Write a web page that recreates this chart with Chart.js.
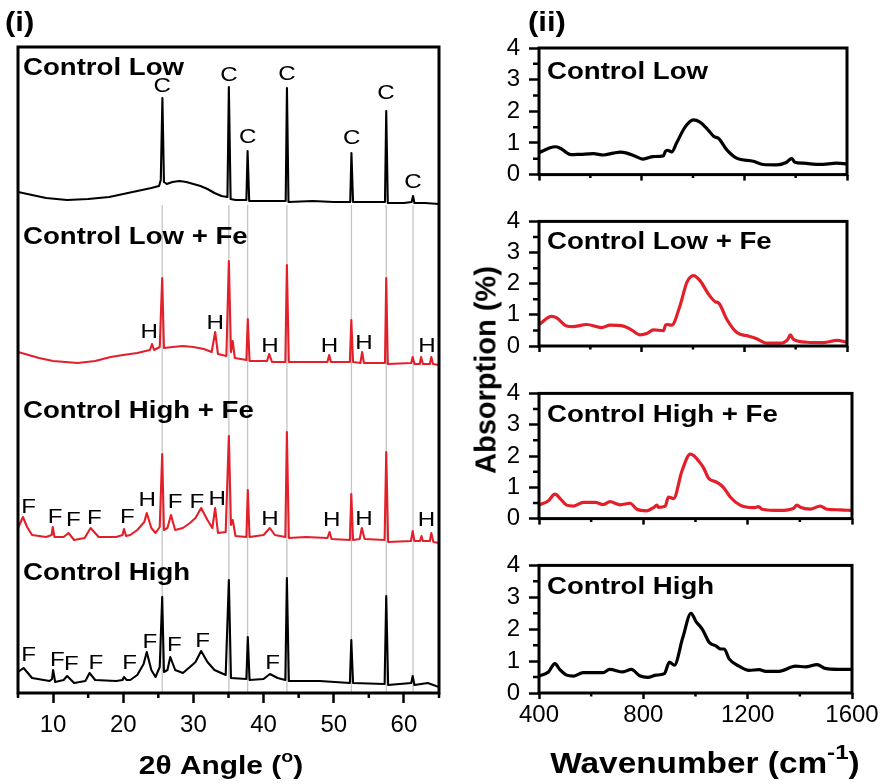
<!DOCTYPE html>
<html>
<head>
<meta charset="utf-8">
<script src="https://cdn.jsdelivr.net/npm/chart.js@4.4.1/dist/chart.umd.min.js"></script>
<style>
  body { margin: 0; background: #fff; }
  #wrap { position: relative; width: 885px; height: 784px; overflow: hidden; background: #fff; }
  canvas { position: absolute; }
  #ylab {
    position: absolute; left: 486px; top: 370px;
    transform: translate(-50%, -50%) rotate(-90deg);
    font: bold 29px "Liberation Sans", Arial, sans-serif;
    white-space: nowrap; color: #000;
  }
</style>
</head>
<body>
<div id="wrap">
  <canvas id="xrd" width="450" height="784" style="left:0;top:0"></canvas>
  <canvas id="ftir0" width="425" height="198" style="left:460px;top:0"></canvas>
  <canvas id="ftir1" width="425" height="172" style="left:460px;top:198px"></canvas>
  <canvas id="ftir2" width="425" height="172" style="left:460px;top:370px"></canvas>
  <canvas id="ftir3" width="425" height="242" style="left:460px;top:542px"></canvas>
  <div id="ylab">Absorption (%)</div>
</div>
<script>
const FONT = '"Liberation Sans", Arial, Helvetica, sans-serif';
const RED = '#e3202a';

// ---------- (i) XRD: [2theta, intensity above baseline] ----------
const xrdNames = ['Control Low', 'Control Low + Fe', 'Control High + Fe', 'Control High'];
const xrdColors = ['#000', RED, RED, '#000'];
const xrdOffsets = [490, 330, 153, 8];
const xrdTitleY = [625, 456, 282, 120];

const ctrlLowXRD = [
  [5, 11], [7, 8], [9, 5], [12, 3], [15, 4], [18, 6], [20, 9], [22, 12], [24, 15], [25.1, 17],
  [25.35, 23], [25.58, 105], [25.8, 21], [26.2, 19], [27, 21], [28, 22], [29, 21], [30, 19],
  [31, 17], [32, 14], [33, 10], [34, 7], [34.85, 6], [35.05, 116], [35.3, 4], [36, 3],
  [37.55, 3], [37.72, 52], [37.95, 2], [40, 2], [43.15, 2], [43.33, 115], [43.55, 1], [47, 2],
  [50, 1], [52.35, 1], [52.52, 50], [52.75, 1], [55, 1], [57.3, 1], [57.48, 92], [57.7, 0],
  [60, 0], [61.1, 1], [61.3, 7], [61.5, 0], [63, 0], [65, -1]
];
const lowFeXRD = [
  [5, 11], [6, 9], [8, 5], [10, 2], [13.5, 0], [16, 2], [18.2, 6], [20, 8], [22, 10], [23.8, 13],
  [24.1, 19], [24.4, 13], [25.2, 16], [25.55, 85], [25.8, 15], [27, 16], [28.5, 17], [30, 16],
  [31.5, 14], [32.6, 11], [33.1, 31], [33.5, 9], [34.7, 7], [35.05, 102], [35.35, 11], [35.6, 22],
  [35.9, 5], [37.55, 3], [37.75, 44], [38, 2], [40.5, 2], [40.8, 9], [41.2, 1], [43.1, 1],
  [43.32, 98], [43.6, 1], [46, 1], [49.1, 1], [49.35, 8], [49.6, 1], [52.3, 1], [52.5, 43],
  [52.75, 1], [53.8, 0], [54.05, 11], [54.3, 0], [57.3, 0], [57.48, 85], [57.7, -1], [61.05, 0],
  [61.25, 6], [61.5, -1], [62.25, -1], [62.45, 6], [62.7, -1], [63.7, -1], [63.9, 6], [64.15, -1],
  [65, -2]
];
const highFeXRD = [
  [5, 12], [5.7, 23], [6.3, 13], [7, 5], [9, 3], [9.8, 5], [9.95, 13], [10.2, 3], [11.5, 3],
  [12.2, 7], [13, 0], [14.5, 2], [15.35, 12], [16.5, 3], [19, 3], [19.9, 5], [20.1, 11], [20.4, 4],
  [21, 5], [22, 10], [23, 18], [23.35, 27], [24, 12], [24.6, 7], [25.2, 13], [25.55, 86], [25.8, 10],
  [26.3, 12], [26.8, 25], [27.4, 10], [28.5, 12], [29.5, 17], [30.3, 22], [31.1, 32], [32, 20],
  [32.7, 12], [33.1, 32], [33.5, 7], [34.6, 8], [35.05, 104], [35.35, 15], [35.6, 20], [36, 4],
  [37.55, 3], [37.75, 50], [38, 3], [40, 5], [40.9, 12], [41.6, 5], [43.1, 3], [43.32, 108],
  [43.6, 2], [46, 3], [49.1, 2], [49.4, 8], [49.7, 1], [52.3, 0], [52.5, 46], [52.75, 0], [53.7, 1],
  [54, 12], [54.4, 1], [57.25, 0], [57.48, 88], [57.75, -2], [61, -1], [61.25, 9], [61.5, -1],
  [62.3, -1], [62.5, 4], [62.7, -1], [63.7, -1], [63.9, 7], [64.2, -2], [65, -3]
];
const ctrlHighXRD = [
  [5, 13], [5.8, 17], [7, 7], [9.5, 4], [9.85, 6], [10, 15], [10.3, 3], [11.5, 5], [12, 9], [13, 2],
  [14.6, 4], [15.2, 12], [16, 5], [19, 4], [19.9, 5], [20.1, 8], [20.5, 5], [21, 5], [22, 10],
  [22.9, 21], [23.35, 33], [24, 15], [24.6, 8], [25.2, 18], [25.55, 88], [25.8, 13], [26.3, 15],
  [26.7, 28], [27.4, 15], [28.5, 12], [29.5, 18], [30.3, 23], [31.1, 34], [32, 23], [33, 15],
  [34.6, 10], [35.05, 105], [35.35, 7], [37.55, 6], [37.75, 48], [38, 5], [40, 6], [40.9, 11],
  [42, 7], [43.1, 5], [43.32, 107], [43.6, 4], [48, 4], [52.3, 2], [52.5, 45], [52.75, 2],
  [57.25, 1], [57.48, 89], [57.75, 0], [61.05, 2], [61.25, 9], [61.5, 0], [63.4, 2], [65, -2]
];

// phase markers [letter, 2theta, height above baseline]
const ctrlLowMarks = [['C', 25.55, 117], ['C', 35.05, 128], ['C', 37.75, 66], ['C', 43.35, 129],
  ['C', 52.55, 65], ['C', 57.45, 110], ['C', 61.3, 21]];
const lowFeMarks = [['H', 23.7, 31], ['H', 33.1, 40], ['H', 40.9, 17], ['H', 49.4, 17],
  ['H', 54.3, 20], ['H', 63.3, 17]];
const highFeMarks = [['F', 6.5, 33], ['F', 10.3, 23], ['F', 12.9, 20], ['F', 15.9, 22], ['F', 20.6, 23],
  ['H', 23.4, 40], ['F', 27.4, 38], ['F', 30.5, 38], ['H', 33.4, 41], ['H', 40.9, 21], ['H', 49.7, 20],
  ['H', 54.3, 21], ['H', 63.2, 20]];
const ctrlHighMarks = [['F', 6.5, 30], ['F', 10.6, 25], ['F', 12.6, 21], ['F', 16.1, 22], ['F', 20.9, 22],
  ['F', 23.8, 43], ['F', 27.3, 40], ['F', 31.3, 44], ['F', 41.3, 22]];

const refPeaks = [25.55, 35.05, 37.72, 43.33, 52.52, 57.48, 61.3];
const refTop = 488;

// ---------- (ii) FTIR: [wavenumber, absorption %] ----------
const ftirNames = ['Control Low', 'Control Low + Fe', 'Control High + Fe', 'Control High'];
const ftirColors = ['#000', RED, RED, '#000'];
const ftirLow = [
  [400, 0.69], [443, 0.85], [465, 0.88], [490, 0.80], [510, 0.68], [525, 0.63], [560, 0.64],
  [612, 0.66], [651, 0.62], [690, 0.68], [716, 0.71], [742, 0.68], [775, 0.58], [806, 0.49],
  [845, 0.57], [884, 0.59], [893, 0.74], [900, 0.77], [917, 0.72], [936, 1.0], [969, 1.5],
  [1001, 1.73], [1027, 1.66], [1060, 1.40], [1082, 1.2], [1099, 1.15], [1131, 0.79], [1170, 0.52],
  [1235, 0.42], [1274, 0.32], [1326, 0.31], [1365, 0.39], [1384, 0.51], [1397, 0.39], [1430, 0.36],
  [1495, 0.32], [1560, 0.36], [1600, 0.34]
];
const ftirLowFe = [
  [400, 0.69], [449, 0.95], [469, 0.90], [508, 0.64], [530, 0.62], [586, 0.69], [644, 0.59],
  [677, 0.67], [729, 0.64], [760, 0.52], [794, 0.36], [820, 0.40], [846, 0.52], [885, 0.49],
  [893, 0.67], [900, 0.69], [917, 0.67], [950, 1.31], [976, 2.04], [1002, 2.26], [1028, 2.09],
  [1060, 1.67], [1087, 1.42], [1100, 1.38], [1132, 0.85], [1171, 0.43], [1215, 0.32], [1243, 0.25],
  [1288, 0.09], [1340, 0.09], [1370, 0.22], [1379, 0.36], [1392, 0.21], [1444, 0.12], [1509, 0.11],
  [1561, 0.18], [1600, 0.12]
];
const ftirHighFe = [
  [400, 0.43], [436, 0.57], [461, 0.78], [481, 0.64], [506, 0.43], [532, 0.40], [570, 0.52],
  [615, 0.52], [647, 0.45], [672, 0.54], [711, 0.44], [749, 0.49], [775, 0.30], [813, 0.25],
  [839, 0.35], [852, 0.43], [858, 0.36], [884, 0.40], [896, 0.69], [916, 0.64], [948, 1.52],
  [980, 2.06], [992, 2.02], [1018, 1.78], [1031, 1.62], [1050, 1.29], [1082, 1.16], [1107, 1.00],
  [1133, 0.69], [1171, 0.43], [1223, 0.35], [1242, 0.38], [1255, 0.30], [1325, 0.26], [1376, 0.33],
  [1389, 0.43], [1402, 0.36], [1440, 0.30], [1478, 0.40], [1504, 0.30], [1555, 0.28], [1600, 0.26]
];
const ftirHigh = [
  [400, 0.53], [436, 0.66], [461, 0.92], [480, 0.73], [506, 0.56], [531, 0.53], [569, 0.64],
  [646, 0.64], [671, 0.74], [722, 0.66], [754, 0.74], [786, 0.54], [817, 0.49], [849, 0.56],
  [881, 0.61], [900, 0.97], [919, 0.87], [951, 1.73], [983, 2.50], [1002, 2.24], [1027, 1.99],
  [1053, 1.58], [1078, 1.48], [1097, 1.38], [1110, 1.38], [1129, 1.07], [1167, 0.84], [1205, 0.71],
  [1244, 0.73], [1269, 0.68], [1320, 0.68], [1384, 0.84], [1422, 0.82], [1466, 0.89], [1498, 0.77],
  [1549, 0.74], [1600, 0.74]
];

// --- helpers ---
function stretchText(ctx, txt, x, y, font, align, sx) {
  ctx.save();
  ctx.font = font;
  ctx.textAlign = align || 'left';
  ctx.textBaseline = 'middle';
  ctx.fillStyle = '#000';
  ctx.translate(x, y);
  ctx.scale(sx, 1);
  ctx.fillText(txt, 0, 0);
  ctx.restore();
}

// parts: [text, font, dy]; centred on cx
function drawParts(ctx, parts, cx, y, sx) {
  ctx.save();
  let total = 0;
  parts.forEach(p => { ctx.font = p[1]; total += ctx.measureText(p[0]).width * sx; });
  let x = cx - total / 2;
  parts.forEach(p => {
    ctx.font = p[1];
    const w = ctx.measureText(p[0]).width * sx;
    stretchText(ctx, p[0], x, y + p[2], p[1], 'left', sx);
    x += w;
  });
  ctx.restore();
}

function minorTicks(ctx, scale, values, len, horizontal) {
  ctx.save();
  ctx.strokeStyle = '#000';
  ctx.lineWidth = 2.5;
  ctx.beginPath();
  values.forEach(v => {
    const p = scale.getPixelForValue(v);
    if (horizontal) { ctx.moveTo(p, scale.top); ctx.lineTo(p, scale.top + len); }
    else { ctx.moveTo(scale.right, p); ctx.lineTo(scale.right - len, p); }
  });
  ctx.stroke();
  ctx.restore();
}

function frame(ctx, a) {
  ctx.save();
  ctx.strokeStyle = '#000';
  ctx.lineWidth = 3;
  ctx.strokeRect(a.left, a.top, a.right - a.left, a.bottom - a.top);
  ctx.restore();
}

const tickFont = { family: FONT, size: 24 };

// --- Panel (i) ---
const xrdTraces = [ctrlLowXRD, lowFeXRD, highFeXRD, ctrlHighXRD];
const xrdMarks = [ctrlLowMarks, lowFeMarks, highFeMarks, ctrlHighMarks];

const xrdDatasets = xrdTraces.map((tr, i) => ({
  data: tr.map(([a, v]) => ({ x: a, y: v + xrdOffsets[i] })),
  borderColor: xrdColors[i],
  borderWidth: 2.1,
  borderJoinStyle: 'round',
  pointRadius: 0,
  order: 1
}));
refPeaks.forEach(p => xrdDatasets.push({
  data: [{ x: p, y: 0 }, { x: p, y: refTop }],
  borderColor: '#c4c4c4',
  borderWidth: 1.3,
  pointRadius: 0,
  order: 2
}));

const xrdDecor = {
  id: 'xrdDecor',
  afterDraw(chart) {
    const { ctx, chartArea: a, scales: { x, y } } = chart;
    frame(ctx, a);
    minorTicks(ctx, x, [5, 15, 25, 35, 45, 55, 65], 5, true);
    xrdMarks.forEach((list, i) => list.forEach(([t, ang, h]) => {
      stretchText(ctx, t, x.getPixelForValue(ang), y.getPixelForValue(xrdOffsets[i] + h),
        '21px ' + FONT, 'center', 1.15);
    }));
    xrdNames.forEach((n, i) => {
      stretchText(ctx, n, a.left + 5, y.getPixelForValue(xrdTitleY[i]), 'bold 24px ' + FONT, 'left', 1.15);
    });
    stretchText(ctx, '(i)', 5, 24, 'bold 27px ' + FONT, 'left', 1.15);
    drawParts(ctx, [
      ['2\u03b8 Angle (', 'bold 26px ' + FONT, 0],
      ['o', 'bold 17px ' + FONT, -10],
      [')', 'bold 26px ' + FONT, 0]
    ], 221, 767, 1.15);
  }
};

new Chart(document.getElementById('xrd'), {
  type: 'line',
  data: { datasets: xrdDatasets },
  options: {
    responsive: false,
    animation: false,
    layout: { padding: { left: 18, top: 47, right: 11, bottom: 0 } },
    plugins: { legend: { display: false }, tooltip: { enabled: false } },
    scales: {
      x: {
        type: 'linear', min: 5, max: 65,
        ticks: {
          stepSize: 5, autoSkip: false, maxRotation: 0, padding: 8, color: '#000', font: tickFont,
          callback: v => (v % 10 === 0 ? v : '')
        },
        grid: {
          drawOnChartArea: false, tickLength: 10, tickWidth: 2.5,
          tickColor: c => (c.tick && c.tick.value % 10 === 0 ? '#000' : 'rgba(0,0,0,0)')
        },
        border: { display: false },
        afterFit: s => { s.height = 91; }
      },
      y: { display: false, min: 0, max: 646 }
    }
  },
  plugins: [xrdDecor]
});

// --- Panel (ii) ---
const ftirSpectra = [ftirLow, ftirLowFe, ftirHighFe, ftirHigh];
const ftTop = [48, 217, 390, 563];
const ftBottom = [179, 346, 519, 693];
const ftRight = [847, 847, 852, 852];
const cvTop = [0, 198, 370, 542];
const cvBottom = [198, 370, 542, 784];
const ftTitleDy = [24, 21, 22, 22];

ftirSpectra.forEach((spec, k) => {
  const decor = {
    id: 'ftirDecor' + k,
    afterDraw(chart) {
      const { ctx, chartArea: a, scales: { x, y } } = chart;
      frame(ctx, a);
      minorTicks(ctx, x, [600, 1000, 1400], 3.5, true);
      minorTicks(ctx, y, [0.5, 1.5, 2.5, 3.5], 6, false);
      stretchText(ctx, ftirNames[k], a.left + 8, a.top + ftTitleDy[k], 'bold 24px ' + FONT, 'left', 1.15);
      if (k === 0) stretchText(ctx, '(ii)', 528 - 460, 24, 'bold 27px ' + FONT, 'left', 1.15);
      if (k === 3) {
        drawParts(ctx, [
          ['Wavenumber (cm', 'bold 29px ' + FONT, 0],
          ['-1', 'bold 21px ' + FONT, -12],
          [')', 'bold 29px ' + FONT, 0]
        ], 705 - 460, 765 - cvTop[k], 1.15);
      }
    }
  };

  new Chart(document.getElementById('ftir' + k), {
    type: 'line',
    data: {
      datasets: [{
        data: spec.map(([w, v]) => ({ x: w, y: v })),
        borderColor: ftirColors[k],
        borderWidth: 3.2,
        cubicInterpolationMode: 'monotone',
        pointRadius: 0
      }]
    },
    options: {
      responsive: false,
      animation: false,
      layout: { padding: { left: 0, top: ftTop[k] - cvTop[k], right: 885 - ftRight[k], bottom: 0 } },
      plugins: { legend: { display: false }, tooltip: { enabled: false } },
      scales: {
        x: {
          type: 'linear', min: 400, max: 1600,
          ticks: {
            display: k === 3, stepSize: 200, autoSkip: false, maxRotation: 0, padding: 2,
            color: '#000', font: tickFont,
            callback: v => (v % 400 === 0 ? v : '')
          },
          grid: {
            drawOnChartArea: false, tickLength: 6, tickWidth: 2.5,
            tickColor: c => (c.tick && c.tick.value % 400 === 0 ? '#000' : 'rgba(0,0,0,0)')
          },
          border: { display: false },
          afterFit: s => { s.height = cvBottom[k] - ftBottom[k]; }
        },
        y: {
          min: 0, max: 4,
          ticks: {
            stepSize: 0.5, autoSkip: false, padding: 9, color: '#000', font: tickFont,
            callback: v => (Number.isInteger(v) ? v : '')
          },
          grid: {
            drawOnChartArea: false, tickLength: 10, tickWidth: 2.5,
            tickColor: c => (c.tick && Number.isInteger(c.tick.value) ? '#000' : 'rgba(0,0,0,0)')
          },
          border: { display: false },
          afterFit: s => { s.width = 79; }
        }
      }
    },
    plugins: [decor]
  });
});
</script>
</body>
</html>
